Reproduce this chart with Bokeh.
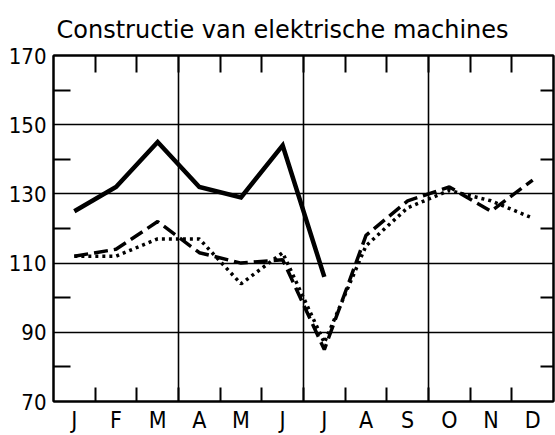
from bokeh.plotting import figure
from bokeh.models import FixedTicker, LinearAxis, Range1d
from bokeh.embed import file_html
from bokeh.resources import INLINE

months = ["J", "F", "M", "A", "M", "J", "J", "A", "S", "O", "N", "D"]
solid = [125, 132, 145, 132, 129, 144, 106]
dashed = [112, 114, 122, 113, 110, 111, 85, 118, 128, 132, 125, 134]
dotted = [112, 112, 117, 117, 104, 113, 87, 115, 126, 131, 128, 123]
y_labels = [70, 90, 110, 130, 150, 170]
y_minor = [80, 100, 120, 140, 160]
title = "Constructie van elektrische machines"

FONT = "DejaVu Sans Condensed"

x_mid = [i + 0.5 for i in range(len(months))]
x_bound = list(range(1, len(months)))

p = figure(width=555, height=435, x_range=Range1d(0, 12), y_range=Range1d(70, 170),
           output_backend="svg", toolbar_location=None,
           x_axis_location=None, y_axis_location=None,
           min_border_left=53, min_border_right=2, min_border_top=55, min_border_bottom=32)

p.title.text = title
p.title.text_font = "DejaVu Sans"
p.title.text_font_size = "24px"
p.title.text_font_style = "normal"
p.title.align = "left"
p.title.offset = 3
p.title.standoff = 24
p.title.text_color = "black"

p.outline_line_color = "black"
p.outline_line_width = 2
p.background_fill_color = "white"
p.border_fill_color = "white"

p.xgrid.ticker = FixedTicker(ticks=[3, 6, 9])
p.ygrid.ticker = FixedTicker(ticks=[90, 110, 130, 150])
for g in (p.xgrid, p.ygrid):
    g.grid_line_color = "black"
    g.grid_line_width = 1.6
    g.grid_line_alpha = 1

def style(ax, tin):
    ax.axis_line_color = "black"
    ax.axis_line_width = 2
    ax.major_tick_line_color = None
    ax.minor_tick_line_color = "black"
    ax.minor_tick_line_width = 2
    ax.minor_tick_in = tin
    ax.minor_tick_out = 0
    ax.major_tick_out = 0
    ax.major_tick_in = 0
    ax.major_label_text_color = "black"

xb = LinearAxis(ticker=FixedTicker(ticks=x_mid, minor_ticks=x_bound))
xb.major_label_overrides = {m: lab for m, lab in zip(x_mid, months)}
style(xb, 14)
xb.major_label_text_font = FONT
xb.major_label_text_font_size = "23px"
xb.major_label_standoff = 5
p.add_layout(xb, "below")

xt = LinearAxis(ticker=FixedTicker(ticks=[], minor_ticks=x_bound))
style(xt, 17)
xt.major_label_text_font_size = "0px"
p.add_layout(xt, "above")

yl = LinearAxis(ticker=FixedTicker(ticks=y_labels, minor_ticks=y_minor))
style(yl, 17)
yl.major_label_text_font = FONT
yl.major_label_text_font_size = "22px"
yl.major_label_standoff = 7
p.add_layout(yl, "left")

yr = LinearAxis(ticker=FixedTicker(ticks=[], minor_ticks=y_minor))
style(yr, 13)
yr.major_label_text_font_size = "0px"
p.add_layout(yr, "right")

p.line(x_mid[:len(solid)], solid, line_color="black", line_width=4.5, line_join="miter")
p.line(x_mid, dashed, line_color="black", line_width=3.5, line_dash="14 6")
p.line(x_mid, dotted, line_color="black", line_width=3.5, line_dash="3 4")

open("out.html", "w").write(file_html(p, INLINE))
